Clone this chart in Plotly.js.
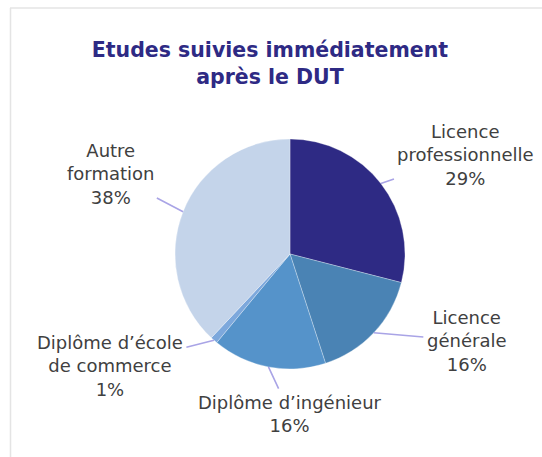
<!DOCTYPE html>
<html>
<head>
<meta charset="utf-8">
<script src="https://cdn.plot.ly/plotly-3.0.1.min.js"></script>
<style>
html,body{margin:0;padding:0;background:#fff;overflow:hidden;}
#chart{width:542px;height:457px;}
</style>
</head>
<body>
<div id="chart"></div>
<script>
// Data
var categories = ["Licence<br>professionnelle", "Licence<br>générale", "Diplôme d’ingénieur", "Diplôme d’école<br>de commerce", "Autre<br>formation"];
var values = [29, 16, 16, 1, 38];
var colors = ["#2E2A84", "#4A83B4", "#5593CA", "#7DA8DC", "#C4D4EA"];

// Layout geometry (pixels)
var W = 542, H = 457;
var cx = 290, cy = 254, r = 115;
// label text centre offsets relative to leader tip (pixels)
var labelOffsets = [[85, -29], [93, 8], [22, 47], [-104, 26], [-73, -38]];

var total = values.reduce(function(a, b){ return a + b; }, 0);
var annotations = [];
var cum = 0;
for (var i = 0; i < values.length; i++) {
  var mid = (cum + values[i] / 2) / total * 2 * Math.PI;
  cum += values[i];
  var tx = cx + r * Math.sin(mid);
  var ty = cy - r * Math.cos(mid);
  var pct = Math.round(values[i] / total * 100);
  annotations.push({
    xref: "paper", yref: "paper",
    x: tx / W, y: 1 - ty / H,
    ax: labelOffsets[i][0], ay: labelOffsets[i][1],
    axref: "pixel", ayref: "pixel",
    text: categories[i] + "<br>" + pct + "%",
    showarrow: true, arrowhead: 0, arrowwidth: 1.6, arrowcolor: "#A9A4E6",
    standoff: 0, startstandoff: 2,
    font: {family: "DejaVu Sans", size: 18, color: "#404040"},
    align: "center"
  });
}

var trace = {
  type: "pie",
  labels: categories,
  values: values,
  marker: {colors: colors, line: {color: "#ffffff", width: 0.3}},
  sort: false,
  direction: "clockwise",
  rotation: 0,
  textinfo: "none",
  hoverinfo: "label+percent",
  domain: {x: [(cx - r) / W, (cx + r) / W], y: [1 - (cy + r) / H, 1 - (cy - r) / H]}
};

var layout = {
  width: W, height: H,
  margin: {l: 0, r: 0, t: 0, b: 0},
  paper_bgcolor: "#ffffff",
  showlegend: false,
  title: {
    text: "<b>Etudes suivies immédiatement<br>après le DUT</b>",
    font: {family: "DejaVu Sans", size: 20.5, color: "#2E2A84"},
    x: 0.498, xanchor: "center",
    y: 1 - 57 / H, yanchor: "middle", yref: "container"
  },
  annotations: annotations,
  shapes: [
    {type: "line", xref: "paper", yref: "paper", x0: 10 / W, x1: 1.01, y0: 1 - 8 / H, y1: 1 - 8 / H, line: {color: "#E4E4E4", width: 1.5}},
    {type: "line", xref: "paper", yref: "paper", x0: 10.5 / W, x1: 10.5 / W, y0: 1 - 8 / H, y1: -0.01, line: {color: "#E4E4E4", width: 1.5}}
  ]
};

Plotly.newPlot("chart", [trace], layout, {displayModeBar: false, staticPlot: true});
</script>
</body>
</html>
